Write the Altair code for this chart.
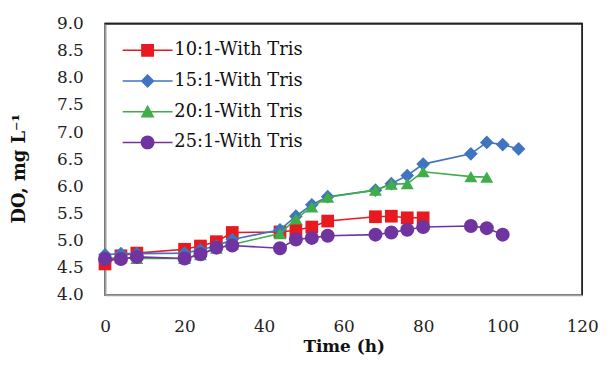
import altair as alt
import pandas as pd

series_names = ["10:1-With Tris", "15:1-With Tris", "20:1-With Tris", "25:1-With Tris"]
colors = ["#E8191F", "#3F74C0", "#3FAE49", "#7034A0"]

t_red = [0, 4, 8, 20, 24, 28, 32, 44, 48, 52, 56, 68, 72, 76, 80]
v_red = [4.57, 4.72, 4.77, 4.84, 4.90, 4.98, 5.15, 5.16, 5.19, 5.25, 5.36, 5.44, 5.45, 5.42, 5.42]

t_blue = [0, 4, 8, 20, 24, 28, 32, 44, 48, 52, 56, 68, 72, 76, 80, 92, 96, 100, 104]
v_blue = [4.74, 4.76, 4.76, 4.77, 4.83, 4.90, 5.02, 5.20, 5.45, 5.66, 5.81, 5.93, 6.05, 6.20, 6.41, 6.60, 6.81, 6.77, 6.69]

t_green = [0, 4, 8, 20, 24, 28, 32, 44, 48, 52, 56, 68, 72, 76, 80, 92, 96]
v_green = [4.68, 4.68, 4.67, 4.67, 4.74, 4.86, 4.93, 5.13, 5.40, 5.62, 5.80, 5.93, 6.04, 6.05, 6.27, 6.18, 6.17]

t_purple = [0, 4, 8, 20, 24, 28, 32, 44, 48, 52, 56, 68, 72, 76, 80, 92, 96, 100]
v_purple = [4.66, 4.66, 4.70, 4.67, 4.75, 4.87, 4.91, 4.86, 5.02, 5.05, 5.09, 5.11, 5.15, 5.20, 5.25, 5.27, 5.23, 5.11]

x_domain = [0, 120]
y_domain = [4, 9]
x_ticks = [0, 20, 40, 60, 80, 100, 120]
y_ticks = [4.0, 4.5, 5.0, 5.5, 6.0, 6.5, 7.0, 7.5, 8.0, 8.5, 9.0]

all_t = [t_red, t_blue, t_green, t_purple]
all_v = [v_red, v_blue, v_green, v_purple]
rows = []
for name, ts, vs in zip(series_names, all_t, all_v):
    for t, v in zip(ts, vs):
        rows.append({"series": name, "t": t, "v": v})
df = pd.DataFrame(rows)

FONT = "DejaVu Serif"
marker_shapes = ["square", "diamond", "triangle-up", "circle"]
marker_sizes = [165, 190, 170, 200]

L = "M-3.6,-0.11 L3.6,-0.11 L3.6,0.11 L-3.6,0.11 Z "
legend_paths = [
    L + "M-0.93,-0.93 L0.93,-0.93 L0.93,0.93 L-0.93,0.93 Z",
    L + "M0,-1.0 L1.0,0 L0,1.0 L-1.0,0 Z",
    L + "M0,-1.0 L1.0,0.85 L-1.0,0.85 Z",
    L + "M-1,0 A1,1 0 1,1 1,0 A1,1 0 1,1 -1,0 Z",
]

x_scale = alt.Scale(domain=x_domain, nice=False)
y_scale = alt.Scale(domain=y_domain, nice=False, zero=False)

x_axis = alt.Axis(values=x_ticks, title="Time (h)", grid=False, ticks=False, tickSize=0,
                  labelFont=FONT, labelFontSize=17, labelColor="#222", labelFlush=False,
                  labelPadding=32, labelBaseline="middle",
                  titleFont=FONT, titleFontSize=17, titleFontWeight="bold", titleColor="#111",
                  titleY=52, titleBaseline="middle",
                  domainColor="#a0a0a0", domainWidth=2)
y_axis = alt.Axis(values=y_ticks, format=".1f", title="DO, mg L⁻¹", grid=False, ticks=False, tickSize=0,
                  labelFont=FONT, labelFontSize=17, labelColor="#222", labelPadding=22, labelFlush=False,
                  titleFont=FONT, titleFontSize=18, titleFontWeight="bold", titleColor="#111",
                  titleX=-86, titleY=146, titleAlign="center", titleBaseline="middle", titleAngle=-90,
                  domainColor="#a0a0a0", domainWidth=2)

x_enc = alt.X("t:Q", scale=x_scale, axis=x_axis)
y_enc = alt.Y("v:Q", scale=y_scale, axis=y_axis)

base = alt.Chart(df)

layers = []
for name, col, shp, sz in zip(series_names, colors, marker_shapes, marker_sizes):
    sub = base.transform_filter(alt.datum.series == name)
    layers.append(sub.mark_line(color=col, strokeWidth=1.6).encode(x=x_enc, y=y_enc))
    layers.append(sub.mark_point(shape=shp, filled=True, color=col, size=sz, opacity=1).encode(x=x_enc, y=y_enc))

leg_kw = dict(title=None, orient="none", legendX=34, legendY=18,
              labelFont=FONT, labelFontSize=18, labelColor="#111",
              symbolSize=196, symbolStrokeWidth=0, labelOffset=18,
              rowPadding=13, padding=0, offset=0)

legend_layer = base.transform_filter("false").mark_point(filled=True, size=196, opacity=1).encode(
    x=x_enc, y=y_enc,
    color=alt.Color("series:N", scale=alt.Scale(domain=series_names, range=colors),
                    legend=alt.Legend(**leg_kw)),
    shape=alt.Shape("series:N", scale=alt.Scale(domain=series_names, range=legend_paths),
                    legend=alt.Legend(**leg_kw)),
)
layers.append(legend_layer)

# top and right edges of the plot box, from the axis domains
frame_base = base.transform_aggregate(n="count()").transform_calculate(
    x0=str(x_domain[0]), x1=str(x_domain[1]), y0=str(y_domain[0]), y1=str(y_domain[1])
)
top_edge = frame_base.mark_rule(color="#222", strokeWidth=1.6).encode(
    x=alt.X("x0:Q", scale=x_scale, axis=x_axis), x2="x1:Q",
    y=alt.Y("y1:Q", scale=y_scale, axis=y_axis),
)
right_edge = frame_base.mark_rule(color="#222", strokeWidth=1.6).encode(
    x=alt.X("x1:Q", scale=x_scale, axis=x_axis),
    y=alt.Y("y0:Q", scale=y_scale, axis=y_axis), y2="y1:Q",
)
layers += [top_edge, right_edge]

chart = alt.layer(*layers).properties(
    width=482, height=274,
    padding={"left": 3, "top": 5, "right": 5, "bottom": 0},
).configure_view(stroke="#222", strokeWidth=1.6)

chart.save("out.html", embed_options={"renderer": "svg", "actions": False})
